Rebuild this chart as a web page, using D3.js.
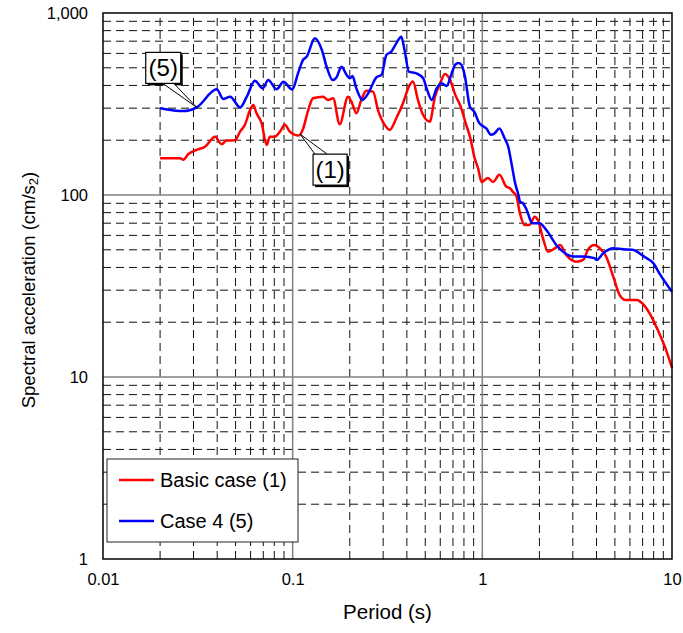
<!DOCTYPE html>
<html>
<head>
<meta charset="utf-8">
<script src="https://cdn.jsdelivr.net/npm/d3@7"></script>
<style>
  body { margin: 0; background: #fff; }
  text { font-family: "Liberation Sans", Arial, sans-serif; fill: #000; }
</style>
</head>
<body>
<div id="chart"></div>
<script>
// period (s) and spectral acceleration (cm/s2)
var basicPeriods = [0.02, 0.0255, 0.0265, 0.0282, 0.0312, 0.0345, 0.039, 0.0422, 0.0448, 0.0497,
  0.0528, 0.056, 0.0596, 0.062, 0.0645, 0.0686, 0.0729, 0.0758, 0.0804, 0.0857,
  0.091, 0.0966, 0.108, 0.113, 0.1208, 0.128, 0.1448, 0.1537, 0.1633, 0.177,
  0.1958, 0.2041, 0.2166, 0.23, 0.2445, 0.2652, 0.2818, 0.3057, 0.3247, 0.3518,
  0.3816, 0.41, 0.4306, 0.4576, 0.4875, 0.528, 0.5628, 0.599, 0.636, 0.6766,
  0.72, 0.77, 0.815, 0.865, 0.91, 0.95, 0.99, 1.07, 1.14, 1.23,
  1.34, 1.4, 1.45, 1.51, 1.58, 1.67, 1.77, 1.89, 1.96, 2.1,
  2.22, 2.41, 2.57, 2.77, 3.13, 3.4, 3.6, 3.9, 4.17, 4.5,
  4.9, 5.3, 5.7, 6.5, 7.1, 7.8, 8.5, 9.3, 10];
var basicValues = [159, 159, 156, 168, 177, 184, 209, 190, 199, 200,
  223, 243, 293, 312, 281, 248, 188, 209, 209, 223,
  243, 223, 212, 228, 293, 340, 347, 333, 340, 245,
  347, 326, 281, 333, 374, 370, 293, 243, 228, 264,
  319, 394, 420, 333, 275, 253, 347, 411, 462, 428,
  355, 305, 250, 205, 160, 140, 118, 124, 118, 129,
  111, 109, 104, 99, 79, 68.4, 68.4, 76, 73, 56.6,
  48.8, 50.9, 53.1, 46.8, 43, 44, 49.9, 53.1, 50.9, 45.8,
  35.6, 28.2, 26.5, 26.5, 24.9, 21.4, 17.7, 14.1, 11.2];

var case4Periods = [0.02, 0.0265, 0.0312, 0.0398, 0.043, 0.0468, 0.0528, 0.0573, 0.0632, 0.0695,
  0.0743, 0.0823, 0.0894, 0.0995, 0.107, 0.1134, 0.1185, 0.131, 0.1425, 0.151,
  0.1625, 0.1705, 0.181, 0.1926, 0.2, 0.2066, 0.2166, 0.233, 0.2502, 0.2767,
  0.2938, 0.312, 0.3313, 0.3518, 0.3736, 0.3889, 0.41, 0.449, 0.4875, 0.512,
  0.541, 0.575, 0.611, 0.648, 0.689, 0.72, 0.75, 0.78, 0.81, 0.86,
  0.91, 0.96, 1.0, 1.05, 1.11, 1.16, 1.23, 1.31, 1.37, 1.425,
  1.49, 1.55, 1.58, 1.64, 1.72, 1.83, 2.0, 2.18, 2.46, 2.72,
  3.0, 3.4, 3.9, 4.0, 4.35, 4.9, 5.5, 6.2, 7.1, 8.0,
  8.6, 10];
var case4Values = [300, 289, 303, 381, 337, 347, 303, 347, 425, 386,
  428, 381, 419, 380, 470, 552, 575, 726, 626, 507,
  428, 444, 507, 456, 438, 450, 386, 333, 362, 444,
  456, 588, 613, 681, 741, 626, 476, 466, 438, 377,
  333, 386, 411, 397, 466, 520, 532, 515, 447, 305,
  285, 250, 240, 232, 214, 218, 232, 205, 184, 149,
  116, 100, 92, 90, 82, 70, 70, 64, 53, 48,
  46, 46, 45, 44, 48, 51, 50.3, 50, 46, 42,
  37, 29.4];

var seriesNames = ["Basic case (1)", "Case 4 (5)"];
var seriesColors = ["#ff0000", "#0000ff"];
var xTickValues = [0.01, 0.1, 1, 10];
var yTickValues = [1, 10, 100, 1000];

var margin = {top: 13, right: 11, bottom: 74, left: 103},
    width = 683 - margin.left - margin.right,
    height = 633 - margin.top - margin.bottom;

var svg = d3.select("#chart")
    .append("svg")
    .attr("width", 683)
    .attr("height", 633)
    .append("g")
    .attr("transform", "translate(" + margin.left + "," + margin.top + ")");

var x = d3.scaleLog().domain([0.01, 10]).range([0, width]);
var y = d3.scaleLog().domain([1, 1000]).range([height, 0]);

// minor grid (dashed) and decade grid (solid grey)
var minorX = [], minorY = [];
[0.01, 0.1, 1].forEach(function (d) { for (var k = 2; k <= 9; k++) minorX.push(d * k); });
[1, 10, 100].forEach(function (d) { for (var k = 2; k <= 9; k++) minorY.push(d * k); });

svg.append("g").selectAll("line")
    .data(minorX).enter().append("line")
    .attr("x1", d => x(d)).attr("x2", d => x(d))
    .attr("y1", height).attr("y2", 0)
    .attr("stroke", "#111").attr("stroke-width", 1)
    .attr("stroke-dasharray", "8,5");

svg.append("g").selectAll("line")
    .data(minorY).enter().append("line")
    .attr("x1", 0).attr("x2", width)
    .attr("y1", d => y(d)).attr("y2", d => y(d))
    .attr("stroke", "#111").attr("stroke-width", 1)
    .attr("stroke-dasharray", "8,5");

svg.append("g").selectAll("line")
    .data([0.1, 1]).enter().append("line")
    .attr("x1", d => x(d)).attr("x2", d => x(d))
    .attr("y1", height).attr("y2", 0)
    .attr("stroke", "#808080").attr("stroke-width", 1.5);

svg.append("g").selectAll("line")
    .data([10, 100]).enter().append("line")
    .attr("x1", 0).attr("x2", width)
    .attr("y1", d => y(d)).attr("y2", d => y(d))
    .attr("stroke", "#808080").attr("stroke-width", 1.5);

// axes
var xAxis = svg.append("g")
    .attr("transform", "translate(0," + height + ")")
    .call(d3.axisBottom(x).tickValues(xTickValues).tickSize(0).tickPadding(14)
        .tickFormat(d => String(d)));
var yAxis = svg.append("g")
    .call(d3.axisLeft(y).tickValues(yTickValues).tickSize(0).tickPadding(15)
        .tickFormat(d3.format(",")));
[xAxis, yAxis].forEach(function (a) {
    a.select(".domain").remove();
    a.selectAll("text").style("font-size", "16.5px").style("font-family", "Liberation Sans, Arial, sans-serif");
});

// the two spectra
var line = d3.line()
    .x(d => x(d[0]))
    .y(d => y(d[1]))
    .curve(d3.curveMonotoneX);

var series = [d3.zip(basicPeriods, basicValues), d3.zip(case4Periods, case4Values)];

svg.append("g").selectAll("path")
    .data(series).enter().append("path")
    .attr("d", line)
    .attr("fill", "none")
    .attr("stroke", (d, i) => seriesColors[i])
    .attr("stroke-width", 2.5)
    .attr("stroke-linejoin", "round");

// frame
svg.append("rect")
    .attr("width", width).attr("height", height)
    .attr("fill", "none").attr("stroke", "#000").attr("stroke-width", 1.5);

// callouts, tip sits on the curve
var callouts = [
    {label: "(5)", tip: [0.0312, 303], box: [-51, -55, 35, 31], base: [-34, -23]},
    {label: "(1)", tip: [0.1094, 216], box: [13, 20, 34, 31], base: [15, 27]}
];
callouts.forEach(function (c) {
    var tx = x(c.tip[0]), ty = y(c.tip[1]);
    var bx = tx + c.box[0], by = ty + c.box[1], bw = c.box[2], bh = c.box[3];
    var edgeY = c.box[1] < 0 ? by + bh : by;
    var g = svg.append("g");
    g.append("rect").attr("x", bx + 2).attr("y", by + 2).attr("width", bw).attr("height", bh)
        .attr("fill", "#000");
    g.append("path")
        .attr("d", "M" + (tx + c.base[0]) + "," + edgeY + "L" + tx + "," + ty + "L" + (tx + c.base[1]) + "," + edgeY)
        .attr("fill", "#fff").attr("stroke", "#000").attr("stroke-width", 1);
    g.append("rect").attr("x", bx).attr("y", by).attr("width", bw).attr("height", bh)
        .attr("fill", "#fff").attr("stroke", "#000").attr("stroke-width", 1.2);
    g.append("text").attr("x", bx + bw / 2).attr("y", by + bh / 2 + 8.5)
        .attr("text-anchor", "middle").style("font-size", "24px")
        .text(c.label);
});

// legend
var legend = svg.append("g").attr("transform", "translate(4,446)");
legend.append("rect").attr("width", 191).attr("height", 83)
    .attr("fill", "#fff").attr("stroke", "#222").attr("stroke-width", 1);
seriesNames.forEach(function (name, i) {
    var ly = 21 + i * 41;
    legend.append("line").attr("x1", 12).attr("x2", 47).attr("y1", ly).attr("y2", ly)
        .attr("stroke", seriesColors[i]).attr("stroke-width", 2.5);
    legend.append("text").attr("x", 53).attr("y", ly + 7)
        .style("font-size", "20px").text(name);
});

// axis titles
svg.append("text")
    .attr("x", width / 2).attr("y", height + 60)
    .attr("text-anchor", "middle").style("font-size", "20.5px")
    .text("Period (s)");

var yt = svg.append("text")
    .attr("transform", "translate(" + (-68) + "," + (height / 2 + 4) + ") rotate(-90)")
    .attr("text-anchor", "middle").style("font-size", "18.5px");
yt.append("tspan").text("Spectral acceleration (cm/s");
yt.append("tspan").style("font-size", "13px").attr("dy", 3).text("2");
yt.append("tspan").attr("dy", -3).text(")");
</script>
</body>
</html>
